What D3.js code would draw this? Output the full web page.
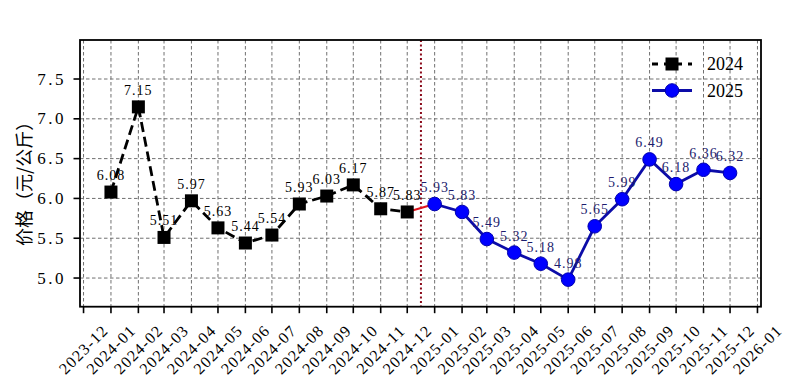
<!DOCTYPE html>
<html>
<head>
<meta charset="utf-8">
<style>
    body { margin: 0; background: #fff; }
    svg { display: block; }
    .tick-label { font-family: 'Liberation Serif', 'DejaVu Serif', serif; fill: #000; }
</style>
</head>
<body>
<svg width="800" height="392"></svg>

<script src="https://cdn.jsdelivr.net/npm/d3@7/dist/d3.min.js"></script>
<script>
    // monthly prices
    let months2024 = ["2024-01", "2024-02", "2024-03", "2024-04", "2024-05", "2024-06",
        "2024-07", "2024-08", "2024-09", "2024-10", "2024-11", "2024-12"]
    let values2024 = [6.08, 7.15, 5.51, 5.97, 5.63, 5.44, 5.54, 5.93, 6.03, 6.17, 5.87, 5.83]
    let months2025 = ["2025-01", "2025-02", "2025-03", "2025-04", "2025-05", "2025-06",
        "2025-07", "2025-08", "2025-09", "2025-10", "2025-11", "2025-12"]
    let values2025 = [5.93, 5.83, 5.49, 5.32, 5.18, 4.98, 5.65, 5.99, 6.49, 6.18, 6.36, 6.32]
    let yTicks = [5.0, 5.5, 6.0, 6.5, 7.0, 7.5]
    let seriesNames = ["2024", "2025"]

    let parse = d3.timeParse("%Y-%m")
    let s2024 = months2024.map((m, i) => ({ date: parse(m), value: values2024[i] }))
    let s2025 = months2025.map((m, i) => ({ date: parse(m), value: values2025[i] }))

    let plotLeft = 80, plotRight = 761, plotTop = 40, plotBottom = 306.7

    let svg = d3.select("svg")

    let x = d3.scaleTime()
        .domain([new Date(2023, 10, 27), new Date(2026, 0, 5)])
        .range([plotLeft, plotRight])

    let y = d3.scaleLinear()
        .domain([4.64, 7.99])
        .range([plotBottom, plotTop])

    let xTicks = d3.timeMonth.range(new Date(2023, 11, 1), new Date(2026, 0, 2))
    let fmt = d3.timeFormat("%Y-%m")

    // grid
    let grid = svg.append("g")
        .style("stroke", "#707070")
        .style("stroke-width", 1)
        .style("stroke-dasharray", "3.5,2.5")
    grid.selectAll(".vgrid")
        .data(xTicks)
        .join("line")
        .attr("x1", d => x(d)).attr("x2", d => x(d))
        .attr("y1", plotTop).attr("y2", plotBottom)
    grid.selectAll(".hgrid")
        .data(yTicks)
        .join("line")
        .attr("x1", plotLeft).attr("x2", plotRight)
        .attr("y1", d => y(d)).attr("y2", d => y(d))

    // divider between the years
    let xSplit = (x(s2024[s2024.length - 1].date) + x(s2025[0].date)) / 2
    svg.append("line")
        .attr("x1", xSplit).attr("x2", xSplit)
        .attr("y1", plotTop).attr("y2", plotBottom)
        .style("stroke", "#8b0a1a")
        .style("stroke-width", 2)
        .style("stroke-dasharray", "2,2.5")

    let line = d3.line()
        .x(d => x(d.date))
        .y(d => y(d.value))

    // red connector
    svg.append("path")
        .attr("d", line([s2024[s2024.length - 1], s2025[0]]))
        .style("fill", "none")
        .style("stroke", "#e0141e")
        .style("stroke-width", 2.2)

    // 2024
    svg.append("path")
        .attr("d", line(s2024))
        .style("fill", "none")
        .style("stroke", "#000")
        .style("stroke-width", 2.8)
        .style("stroke-dasharray", "10,5")

    svg.append("g")
        .selectAll("rect")
        .data(s2024)
        .join("rect")
        .attr("x", d => x(d.date) - 6.5)
        .attr("y", d => y(d.value) - 6.5)
        .attr("width", 13)
        .attr("height", 13)
        .style("fill", "#000")

    // 2025
    svg.append("path")
        .attr("d", line(s2025))
        .style("fill", "none")
        .style("stroke", "#0c0ca8")
        .style("stroke-width", 2.8)

    svg.append("g")
        .selectAll("circle")
        .data(s2025)
        .join("circle")
        .attr("cx", d => x(d.date))
        .attr("cy", d => y(d.value))
        .attr("r", 6.8)
        .style("fill", "#0000ff")
        .style("stroke", "#0000b0")
        .style("stroke-width", 1)

    // value labels
    svg.append("g")
        .selectAll("text")
        .data(s2024)
        .join("text")
        .attr("class", "tick-label")
        .attr("x", d => x(d.date))
        .attr("y", d => y(d.value) - 12)
        .attr("text-anchor", "middle")
        .style("font-size", "14px")
        .style("letter-spacing", "1px")
        .text(d => d.value.toFixed(2))

    svg.append("g")
        .selectAll("text")
        .data(s2025)
        .join("text")
        .attr("class", "tick-label")
        .attr("x", d => x(d.date))
        .attr("y", d => y(d.value) - 12)
        .attr("text-anchor", "middle")
        .style("font-size", "14px")
        .style("letter-spacing", "1px")
        .style("fill", "#1c1c6e")
        .text(d => d.value.toFixed(2))

    // frame
    svg.append("rect")
        .attr("x", plotLeft).attr("y", plotTop)
        .attr("width", plotRight - plotLeft).attr("height", plotBottom - plotTop)
        .style("fill", "none")
        .style("stroke", "#000")
        .style("stroke-width", 1.8)

    // x ticks
    let xt = svg.append("g")
    xt.selectAll("line")
        .data(xTicks)
        .join("line")
        .attr("x1", d => x(d)).attr("x2", d => x(d))
        .attr("y1", plotBottom).attr("y2", plotBottom + 6.5)
        .style("stroke", "#000")
        .style("stroke-width", 1.6)
    xt.selectAll("text")
        .data(xTicks)
        .join("text")
        .attr("class", "tick-label")
        .attr("transform", d => `translate(${x(d)},${349.5}) rotate(-45)`)
        .attr("text-anchor", "middle")
        .attr("dominant-baseline", "central")
        .style("font-size", "16px")
        .style("letter-spacing", "1.2px")
        .text(d => fmt(d))

    // y ticks
    let yt = svg.append("g")
    yt.selectAll("line")
        .data(yTicks)
        .join("line")
        .attr("x1", plotLeft - 6.5).attr("x2", plotLeft)
        .attr("y1", d => y(d)).attr("y2", d => y(d))
        .style("stroke", "#000")
        .style("stroke-width", 1.6)
    yt.selectAll("text")
        .data(yTicks)
        .join("text")
        .attr("class", "tick-label")
        .attr("x", plotLeft - 14)
        .attr("y", d => y(d))
        .attr("text-anchor", "end")
        .attr("dominant-baseline", "central")
        .style("font-size", "17px")
        .style("letter-spacing", "2.5px")
        .text(d => d.toFixed(1))

    svg.append("text")
        .attr("transform", `translate(23,${(plotTop + plotBottom) / 2 + 6}) rotate(-90)`)
        .attr("text-anchor", "middle")
        .attr("dominant-baseline", "central")
        .style("font-family", "'Noto Sans CJK SC', sans-serif")
        .style("font-size", "18px")
        .text("价格（元/公斤）")

    // legend
    let lg = svg.append("g")
    let legY = [64, 90.5]
    lg.append("line")
        .attr("x1", 652).attr("x2", 692).attr("y1", legY[0]).attr("y2", legY[0])
        .style("stroke", "#000").style("stroke-width", 2.8).style("stroke-dasharray", "6,6")
    lg.append("rect")
        .attr("x", 665.5).attr("y", legY[0] - 6.5).attr("width", 13).attr("height", 13)
        .style("fill", "#000")
    lg.append("line")
        .attr("x1", 652).attr("x2", 692).attr("y1", legY[1]).attr("y2", legY[1])
        .style("stroke", "#0c0ca8").style("stroke-width", 2.8)
    lg.append("circle")
        .attr("cx", 672).attr("cy", legY[1]).attr("r", 6.8)
        .style("fill", "#0000ff").style("stroke", "#0000b0")
    lg.selectAll("text")
        .data(seriesNames)
        .join("text")
        .attr("class", "tick-label")
        .attr("x", 707)
        .attr("y", (d, i) => legY[i])
        .attr("dominant-baseline", "central")
        .style("font-size", "18px")
        .text(d => d)
</script>
</body>
</html>
